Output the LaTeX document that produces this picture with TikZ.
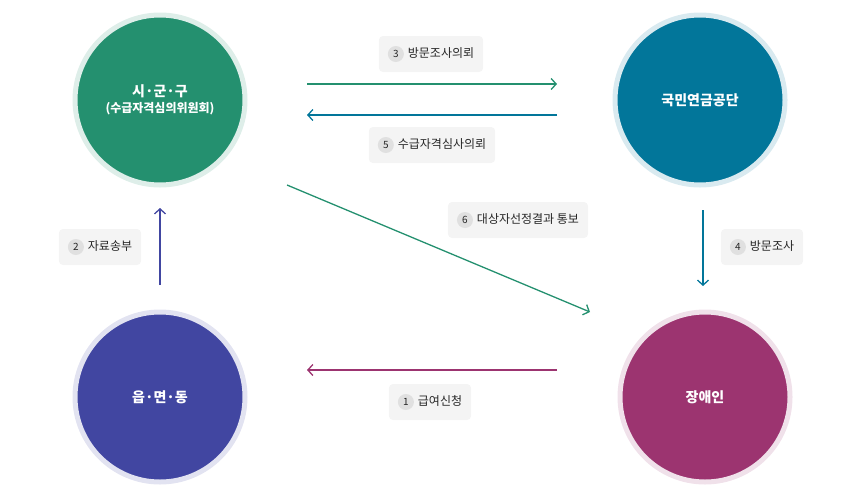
\documentclass[tikz,border=0pt]{standalone}
\usepackage{fontspec}
\setmainfont{Noto Sans CJK KR}
\usetikzlibrary{arrows.meta}
\definecolor{colG}{HTML}{24906F}\definecolor{colT}{HTML}{02769A}
\definecolor{colB}{HTML}{4146A1}\definecolor{colM}{HTML}{9C3470}
\definecolor{lb}{HTML}{F4F4F4}\definecolor{nb}{HTML}{E0E0E0}
\tikzset{
 circ/.style={circle,minimum size=170pt,text=white,font=\bfseries\fontsize{14}{18}\selectfont,align=center,line width=5pt},
 lab/.style={fill=lb,rounded corners=4pt,minimum height=36pt,inner xsep=9pt,font=\fontsize{12}{14}\selectfont,text=black!85},
 arr/.style={line width=1.3pt,-{Straight Barb[length=5pt,width=11pt,line width=1.3pt]}},
}
\newcommand{\num}[1]{\tikz[baseline=-3.5pt]\node[circle,fill=nb,inner sep=0pt,minimum size=16pt,font=\fontsize{10}{10}\selectfont]{#1};\hspace{4pt}}
\begin{document}
\begin{tikzpicture}[x=1pt,y=-1pt]
\useasboundingbox (0,0) rectangle (864,496);
\node[circ,fill=colG,draw=colG!15] (sgg) at (160,100) {시·군·구\\[-2pt]{\fontsize{12}{14}\selectfont(수급자격심의위원회)}};
\node[circ,fill=colT,draw=colT!15] (nps) at (700,100) {국민연금공단};
\node[circ,fill=colB,draw=colB!15] (emd) at (160,397) {읍·면·동};
\node[circ,fill=colM,draw=colM!15] (dis) at (705,397) {장애인};
\coordinate (a3s) at (307,84); \coordinate (a3e) at (557,84);
\coordinate (a5s) at (557,115); \coordinate (a5e) at (307,115);
\coordinate (a6s) at (287,185); \coordinate (a6e) at (590,312);
\coordinate (a2s) at (160,285); \coordinate (a2e) at (160,208);
\coordinate (a4s) at (703,210); \coordinate (a4e) at (703,286);
\coordinate (a1s) at (557,370); \coordinate (a1e) at (307,370);
\draw[arr,color=colG] (a3s)--(a3e);
\draw[arr,color=colT] (a5s)--(a5e);
\draw[arr,color=colG] (a6s)--(a6e);
\draw[arr,color=colB] (a2s)--(a2e);
\draw[arr,color=colT] (a4s)--(a4e);
\draw[arr,color=colM] (a1s)--(a1e);
\node[lab] (l3) at (431,54) {\num{3}방문조사의뢰};
\node[lab] (l5) at (432,145) {\num{5}수급자격심사의뢰};
\node[lab] (l6) at (518,220) {\num{6}대상자선정결과 통보};
\node[lab] (l2) at (100,247) {\num{2}자료송부};
\node[lab] (l4) at (762,247) {\num{4}방문조사};
\node[lab] (l1) at (430,402) {\num{1}급여신청};
\end{tikzpicture}
\end{document}
